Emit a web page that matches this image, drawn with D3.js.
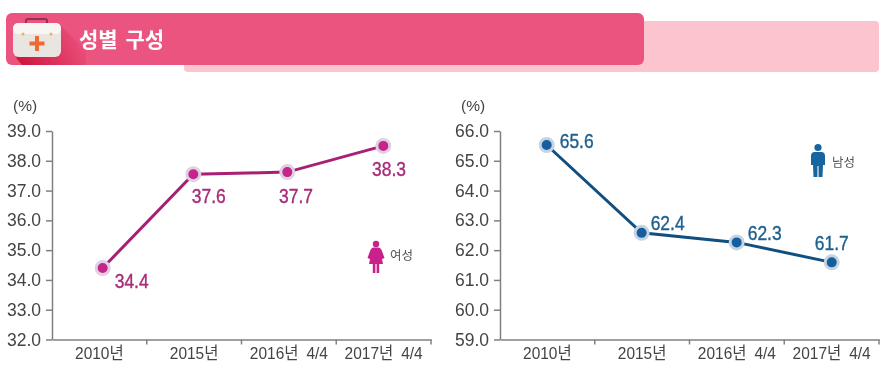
<!DOCTYPE html>
<html>
<head>
<meta charset="utf-8">
<script src="https://cdn.jsdelivr.net/npm/d3@7"></script>
<style>
body { margin: 0; background: #fff; }
svg { display: block; filter: blur(0.35px); }
text { font-family: "Liberation Sans", "Noto Sans CJK KR", sans-serif; }
.domain, .tick line { stroke: #808080; stroke-width: 1.5; }
.yAxis text, .xAxis text { fill: #444; }
</style>
</head>
<body>
<script>
var categories = ['2010년', '2015년', '2016년 4/4', '2017년 4/4'];
var title = '성별 구성';

var womenTicks = [32, 33, 34, 35, 36, 37, 38, 39];
var womenPoints = [34.4, 37.55, 37.62, 38.5];
var womenLabels = ['34.4', '37.6', '37.7', '38.3'];

var menTicks = [59, 60, 61, 62, 63, 64, 65, 66];
var menPoints = [65.53, 62.58, 62.26, 61.59];
var menLabels = ['65.6', '62.4', '62.3', '61.7'];

var width = 889;
var height = 374;

var svg = d3.select('body').append('svg')
	.attr('width', width)
	.attr('height', height);

// the original type is narrower than any installed font
function squeeze(selection, factor) {
	selection.each(function() {
		d3.select(this)
			.attr('textLength', this.getComputedTextLength() * factor)
			.attr('lengthAdjust', 'spacingAndGlyphs');
	});
}

function drawBanner() {
	var grad = svg.append('defs').append('linearGradient')
		.attr('id', 'kitShadow')
		.attr('x1', 0).attr('y1', 0.6).attr('x2', 1).attr('y2', 0.3);
	grad.append('stop').attr('offset', 0).attr('stop-color', '#d0183f');
	grad.append('stop').attr('offset', 1).attr('stop-color', '#ec5480');

	svg.append('rect').attr('x', 184).attr('y', 21).attr('width', 695).attr('height', 51).attr('rx', 4).attr('fill', '#fbc4cf');
	svg.append('rect').attr('x', 6).attr('y', 13).attr('width', 638).attr('height', 52).attr('rx', 6).attr('fill', '#ec5480');

	// shadow behind the kit
	svg.append('path').attr('d', 'M60 25 L86 50 L86 65 L22 65 L16 58 Z').attr('fill', 'url(#kitShadow)');

	// first aid kit
	svg.append('rect').attr('x', 26).attr('y', 19).attr('width', 21).attr('height', 8).attr('rx', 2)
		.attr('fill', 'none').attr('stroke', '#8e3350').attr('stroke-width', 2);
	svg.append('rect').attr('x', 13).attr('y', 23).attr('width', 48).attr('height', 34).attr('rx', 6).attr('fill', '#e9e6e2');
	svg.append('rect').attr('x', 13).attr('y', 23).attr('width', 48).attr('height', 11).attr('rx', 5).attr('fill', '#f8f6f2');
	svg.append('circle').attr('cx', 23).attr('cy', 34).attr('r', 1.5).attr('fill', '#e3b55f');
	svg.append('circle').attr('cx', 51).attr('cy', 34).attr('r', 1.5).attr('fill', '#e3b55f');
	svg.append('rect').attr('x', 29.5).attr('y', 41.5).attr('width', 15).attr('height', 4).attr('fill', '#ee6a35');
	svg.append('rect').attr('x', 35).attr('y', 36).attr('width', 4).attr('height', 15).attr('fill', '#ee6a35');

	svg.append('text')
		.attr('x', 79)
		.attr('y', 47)
		.attr('font-size', 21)
		.attr('font-weight', 700)
		.attr('word-spacing', 2)
		.attr('fill', '#fff')
		.text(title);
}

function drawPerson(x, y, color, isWoman) {
	var g = svg.append('g').attr('transform', 'translate(' + x + ',' + y + ')').attr('fill', color);
	if (isWoman) {
		g.append('circle').attr('cx', 0).attr('cy', 3).attr('r', 3.2);
		g.append('path').attr('d', 'M-3 6.5 L3 6.5 Q5 7 6 10 L8.5 17 L6 18 L7 23 L-7 23 L-6 18 L-8.5 17 L-6 10 Q-5 7 -3 6.5 Z');
		g.append('rect').attr('x', -3.2).attr('y', 23).attr('width', 2.6).attr('height', 9);
		g.append('rect').attr('x', 0.6).attr('y', 23).attr('width', 2.6).attr('height', 9);
	} else {
		g.append('circle').attr('cx', 0).attr('cy', 3.5).attr('r', 3.6);
		g.append('path').attr('d', 'M-4 8 L4 8 Q7 8.5 7 12 L7 21 L5 21 L4.5 33 L0.6 33 L0.5 22 L-0.5 22 L-0.6 33 L-4.5 33 L-5 21 L-7 21 L-7 12 Q-7 8.5 -4 8 Z');
	}
}

function drawChart(opts) {
	var xScale = d3.scaleBand()
		.domain(categories)
		.range([opts.left, opts.right]);

	var yScale = d3.scaleLinear()
		.domain([opts.ticks[0], opts.ticks[opts.ticks.length - 1]])
		.range([339.5, 131]);

	function pointX(i) {
		return xScale(categories[i]) + xScale.bandwidth() / 2 + opts.pointDx[i];
	}

	var bottomAxis = d3.axisBottom(xScale).tickSize(0).tickPadding(7);
	var leftAxis = d3.axisLeft(yScale)
		.tickValues(opts.ticks)
		.tickFormat(d3.format('.1f'))
		.tickSize(6)
		.tickSizeOuter(0)
		.tickPadding(5);

	var xAxis = svg.append('g')
		.attr('class', 'xAxis')
		.attr('transform', 'translate(0,339.5)')
		.call(bottomAxis);
	xAxis.selectAll('text')
		.attr('font-size', 17)
		.attr('word-spacing', 4)
		.call(squeeze, 0.91);

	// separators between the categories
	xAxis.selectAll('.sep')
		.data(categories).enter()
		.append('line')
		.attr('stroke', '#808080')
		.attr('stroke-width', 1.5)
		.attr('x1', function(d) { return xScale(d) + xScale.bandwidth(); })
		.attr('x2', function(d) { return xScale(d) + xScale.bandwidth(); })
		.attr('y1', 0)
		.attr('y2', 5);

	var yAxis = svg.append('g')
		.attr('class', 'yAxis')
		.attr('transform', 'translate(' + opts.left + ',0)')
		.call(leftAxis);
	yAxis.selectAll('text').attr('font-size', 17.5);

	svg.append('text')
		.attr('x', opts.left - 39)
		.attr('y', 110.5)
		.attr('font-size', 15.5)
		.attr('fill', '#444')
		.text('(%)');

	var line = d3.line()
		.x(function(d, i) { return pointX(i); })
		.y(function(d) { return yScale(d); });

	svg.append('path')
		.attr('d', line(opts.points))
		.attr('fill', 'none')
		.attr('stroke', opts.color)
		.attr('stroke-width', 3);

	svg.append('g').selectAll('circle')
		.data(opts.points).enter()
		.append('circle')
		.attr('cx', function(d, i) { return pointX(i); })
		.attr('cy', function(d) { return yScale(d); })
		.attr('r', 6.5)
		.attr('fill', opts.dot)
		.attr('stroke', opts.ring)
		.attr('stroke-width', 3);

	svg.append('g').selectAll('text')
		.data(opts.labels).enter()
		.append('text')
		.attr('x', function(d, i) { return pointX(i) + opts.labelDx[i]; })
		.attr('y', function(d, i) { return yScale(opts.points[i]) + opts.labelDy[i]; })
		.attr('text-anchor', 'middle')
		.attr('font-size', 21)
		.attr('fill', opts.textColor)
		.attr('stroke', opts.textColor)
		.attr('stroke-width', 0.4)
		.text(function(d) { return d; })
		.call(squeeze, 0.83);

	drawPerson(opts.iconX, opts.iconY, opts.iconColor, opts.isWoman);

	svg.append('text')
		.attr('x', opts.iconX + opts.iconTextDx)
		.attr('y', opts.iconY + opts.iconTextDy)
		.attr('font-size', 12.5)
		.attr('fill', '#555')
		.text(opts.iconText);
}

drawBanner();

drawChart({
	left: 52,
	right: 431,
	ticks: womenTicks,
	points: womenPoints,
	labels: womenLabels,
	color: '#a81f74',
	dot: '#c4268b',
	ring: '#e0d0e2',
	textColor: '#a72c78',
	pointDx: [3.3, -0.8, -1.6, -0.3],
	labelDx: [29, 15.4, 8.7, 5.7],
	labelDy: [20, 29, 31, 30],
	iconX: 376,
	iconY: 241,
	iconColor: '#c9218c',
	isWoman: true,
	iconText: '여성',
	iconTextDx: 14,
	iconTextDy: 19
});

drawChart({
	left: 500,
	right: 879,
	ticks: menTicks,
	points: menPoints,
	labels: menLabels,
	color: '#104f80',
	dot: '#165f9e',
	ring: '#c6d3e2',
	textColor: '#1d5f8f',
	pointDx: [-0.7, -0.5, -0.2, 0.1],
	labelDx: [30, 26, 28, 0],
	labelDy: [2.6, -3, -2, -12],
	iconX: 818,
	iconY: 144,
	iconColor: '#17659f',
	isWoman: false,
	iconText: '남성',
	iconTextDx: 14,
	iconTextDy: 23
});
</script>
</body>
</html>
